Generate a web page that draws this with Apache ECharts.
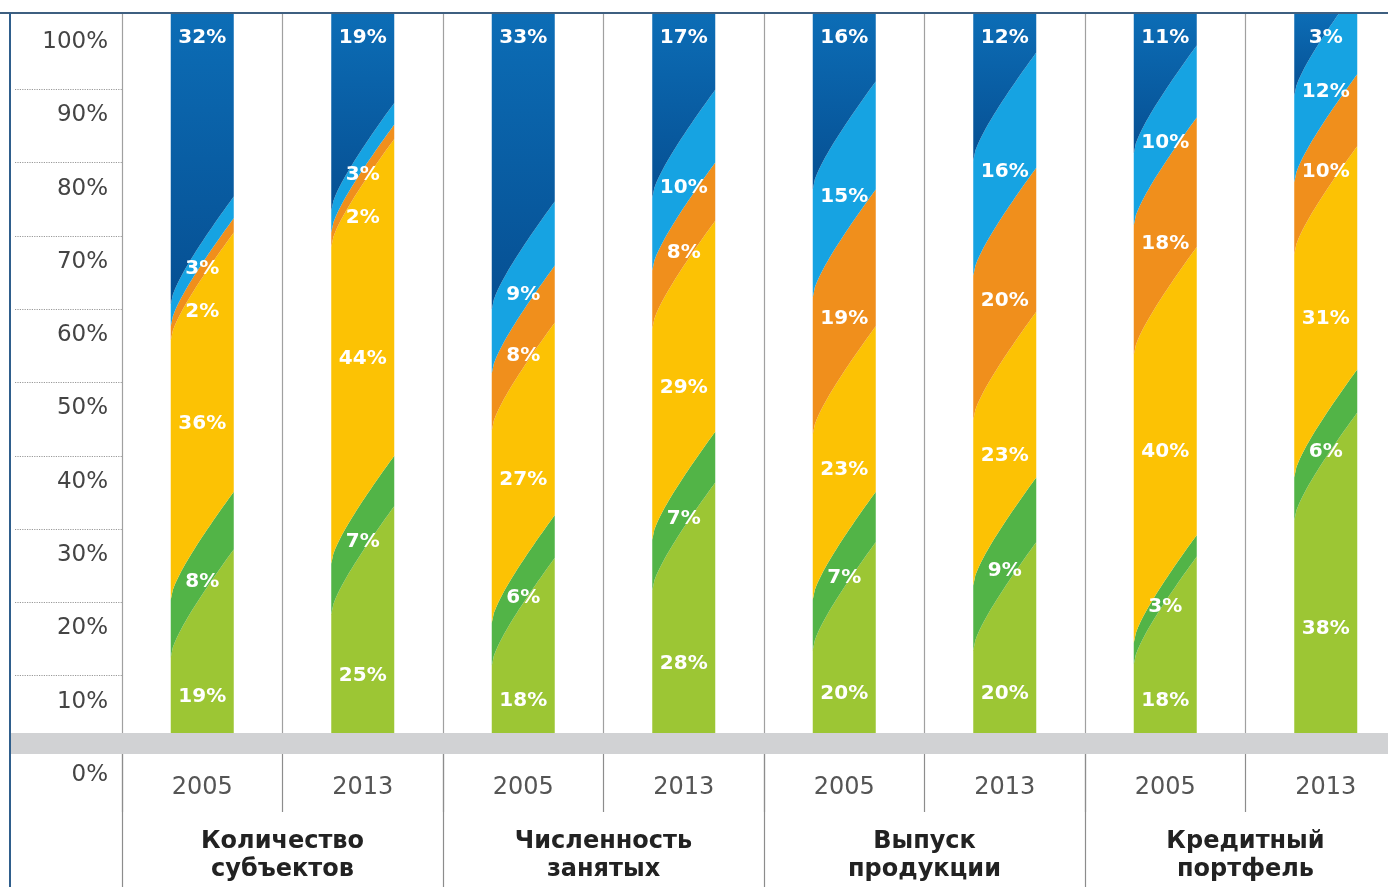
<!DOCTYPE html>
<html>
<head>
<meta charset="utf-8">
<script src="https://cdn.jsdelivr.net/npm/echarts@6/dist/echarts.min.js"></script>
<style>
  html, body { margin: 0; padding: 0; background: #fff; }
  #main { width: 1388px; height: 887px; }
</style>
</head>
<body>
<div id="main"></div>
<script>
// categories
var years = ['2005', '2013', '2005', '2013', '2005', '2013', '2005', '2013'];
var groups = ['Количество\nсубъектов', 'Численность\nзанятых', 'Выпуск\nпродукции', 'Кредитный\nпортфель'];

// shares, % (bottom -> top of each bar)
var lightGreen = [19, 25, 18, 28, 20, 20, 18, 38];
var green      = [8, 7, 6, 7, 7, 9, 3, 6];
var yellow     = [36, 44, 27, 29, 23, 23, 40, 31];
var orange     = [2, 2, 8, 8, 19, 20, 18, 10];
var lightBlue  = [3, 3, 9, 10, 15, 16, 10, 12];
var darkBlue   = [32, 19, 33, 17, 16, 12, 11, 3];

var layers = [lightGreen, green, yellow, orange, lightBlue, darkBlue];
var colors = [
  '#9cc634',
  '#52b447',
  '#fcc204',
  '#f08f1c',
  '#16a3e2',
  new echarts.graphic.LinearGradient(0, 0, 0, 1, [
    { offset: 0, color: '#0c6db6' },
    { offset: 1, color: '#064f92' }
  ])
];

var chartDom = document.getElementById('main');
var myChart = echarts.init(chartDom);

var skew = 7.5; // how far a boundary climbs from left edge to right edge

// mostly straight diagonal, bending down along the left edge
function shape(t) {
  return 0.6 * t + 0.4 * Math.sqrt(t);
}
var shapeMean = 0.3 + 0.4 * 2 / 3;

function renderItem(params, api) {
  var i = api.value(0);
  var vals = layers.map(function (l) { return l[i]; });
  var total = vals.reduce(function (a, b) { return a + b; }, 0);
  var cum = [0];
  for (var k = 0; k < vals.length; k++) cum.push(cum[k] + vals[k] * 100 / total);

  var c = api.coord([i, 0]);
  var bw = 63;
  var x0 = c[0] - bw / 2;

  function curveAt(v) {
    var pts = [];
    var n = 30;
    for (var j = 0; j <= n; j++) {
      var t = j / n;
      var vv = v + skew * 2 * (shape(t) - shapeMean);
      vv = Math.max(0, Math.min(100, vv));
      pts.push([x0 + t * bw, api.coord([i, vv])[1]]);
    }
    return pts;
  }
  function flat(v) {
    var y = api.coord([i, v])[1];
    return [[x0, y], [x0 + bw, y]];
  }

  var children = [];
  for (var s = 0; s < vals.length; s++) {
    var lower = s === 0 ? flat(0) : curveAt(cum[s]);
    var upper = s === vals.length - 1 ? flat(100) : curveAt(cum[s + 1]);
    children.push({
      type: 'polygon',
      shape: { points: lower.concat(upper.slice().reverse()) },
      style: { fill: colors[s] }
    });
  }

  // label positions: top segment at the top, others near the middle, kept apart
  var lab = [];
  lab[vals.length - 1] = 96.5;
  for (var m = vals.length - 2; m >= 0; m--) {
    var mid = (cum[m] + cum[m + 1]) / 2 - (m === 0 ? 4.5 : 2);
    lab[m] = Math.max(2.5, Math.min(mid, lab[m + 1] - 6));
  }
  for (var q = 0; q < vals.length; q++) {
    children.push({
      type: 'text',
      z2: 10,
      style: {
        text: vals[q] + '%',
        x: c[0],
        y: api.coord([i, lab[q]])[1],
        fill: '#fff',
        font: 'bold 20px "DejaVu Sans"',
        align: 'center',
        verticalAlign: 'middle'
      }
    });
  }
  return { type: 'group', children: children };
}

var option = {
  backgroundColor: '#fff',
  animation: false,
  grid: [
    { left: 15, width: 107, top: 16, bottom: 138, outerBoundsMode: 'none' },
    { left: 122, width: 1284, top: 13, bottom: 154, outerBoundsMode: 'none' },
    { left: 15, width: 107, top: 42, bottom: 112, outerBoundsMode: 'none' }
  ],
  xAxis: [
    { gridIndex: 0, type: 'value', show: false },
    {
      gridIndex: 1,
      type: 'category',
      position: 'bottom',
      data: years,
      axisLine: { show: false },
      axisTick: { show: true, interval: 0, length: 79, lineStyle: { color: '#8c8c8c', width: 1.2 } },
      axisLabel: { interval: 0, margin: 43, fontSize: 24, color: '#555', fontFamily: 'DejaVu Sans' },
      splitLine: { show: true, interval: 0, lineStyle: { color: '#a0a0a0', width: 1.2 } }
    },
    {
      gridIndex: 1,
      type: 'category',
      position: 'bottom',
      data: groups,
      axisLine: { show: false },
      axisTick: { show: true, interval: 0, length: 154, lineStyle: { color: '#8c8c8c', width: 1.2 } },
      axisLabel: {
        interval: 0, margin: 95, fontSize: 24, lineHeight: 28,
        fontWeight: 'bold', color: '#222', fontFamily: 'DejaVu Sans'
      }
    },
    { gridIndex: 2, type: 'value', show: false }
  ],
  yAxis: [
    {
      // dotted guide lines
      gridIndex: 0,
      type: 'value',
      min: 0,
      max: 100,
      interval: 10,
      axisLine: { show: false },
      axisTick: { show: false },
      axisLabel: { show: false },
      splitLine: {
        show: true, showMinLine: false, showMaxLine: false,
        lineStyle: { type: 'dotted', color: '#999', width: 1.2 }
      }
    },
    { gridIndex: 1, type: 'value', min: 0, max: 100, show: false },
    {
      // percent tick labels
      gridIndex: 2,
      type: 'value',
      position: 'right',
      min: 0,
      max: 100,
      interval: 10,
      axisLine: { show: false },
      axisTick: { show: false },
      splitLine: { show: false },
      axisLabel: {
        inside: true, margin: 14, formatter: '{value}%', fontSize: 23,
        color: '#444', fontFamily: 'DejaVu Sans'
      }
    }
  ],
  series: [
    {
      type: 'custom',
      xAxisIndex: 1,
      yAxisIndex: 1,
      clip: false,
      renderItem: renderItem,
      data: years.map(function (y, i) { return [i]; })
    }
  ],
  graphic: [
    { type: 'rect', z: 50, shape: { x: 10, y: 733, width: 1378, height: 21 }, style: { fill: '#d1d2d4' } },
    { type: 'line', z: 50, shape: { x1: 0, y1: 13, x2: 1388, y2: 13 }, style: { stroke: '#3e5f80', lineWidth: 2 } },
    { type: 'line', z: 50, shape: { x1: 10, y1: 13, x2: 10, y2: 887 }, style: { stroke: '#2f5e8c', lineWidth: 2 } }
  ]
};

option && myChart.setOption(option);
</script>
</body>
</html>
